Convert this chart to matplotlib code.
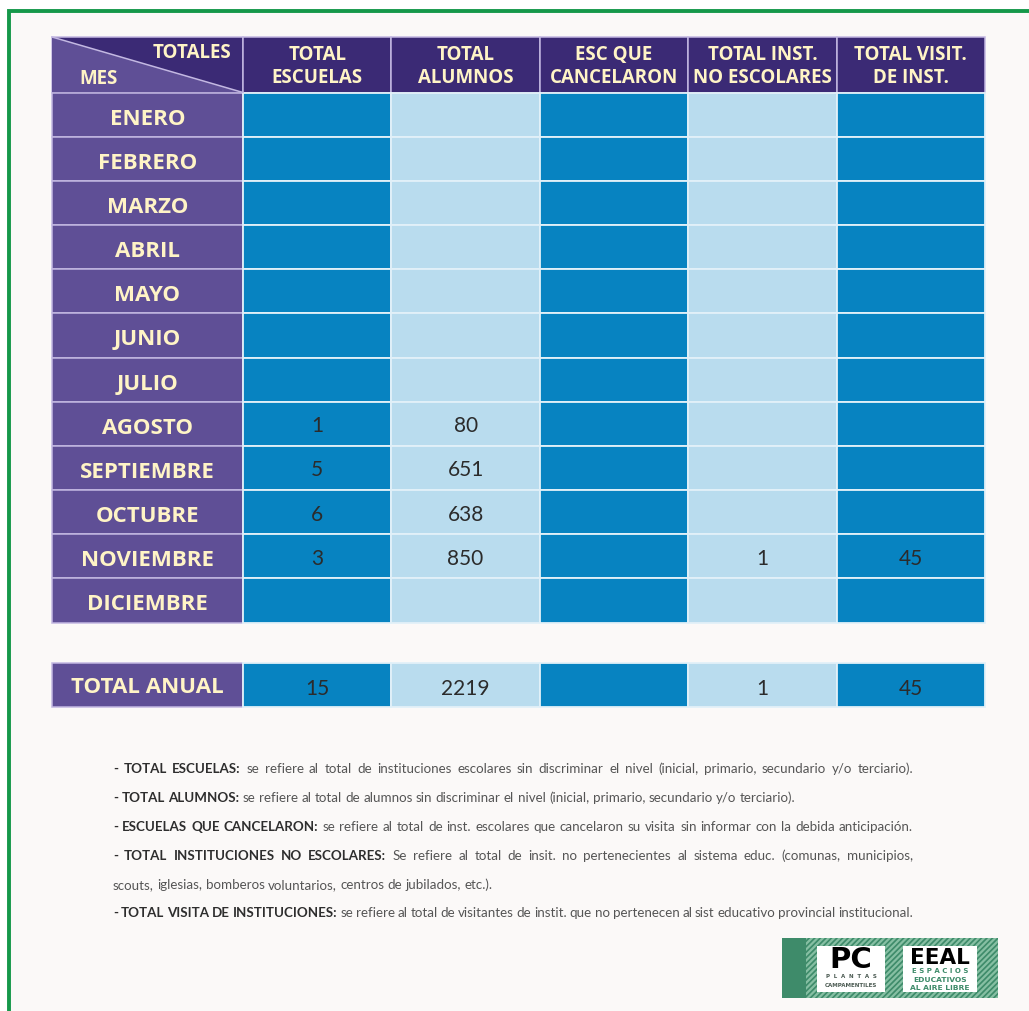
import matplotlib
matplotlib.use("Agg")
import matplotlib.pyplot as plt
from matplotlib.patches import Rectangle, Polygon

# ---------------- data ----------------
months = ["ENERO", "FEBRERO", "MARZO", "ABRIL", "MAYO", "JUNIO", "JULIO",
          "AGOSTO", "SEPTIEMBRE", "OCTUBRE", "NOVIEMBRE", "DICIEMBRE"]
col_headers = ["TOTAL\nESCUELAS", "TOTAL\nALUMNOS", "ESC QUE\nCANCELARON",
               "TOTAL INST.\nNO ESCOLARES", "TOTAL VISIT.\nDE INST."]
total_escuelas = [None, None, None, None, None, None, None, 1, 5, 6, 3, None]
total_alumnos = [None, None, None, None, None, None, None, 80, 651, 638, 850, None]
esc_cancelaron = [None] * 12
inst_no_escolares = [None, None, None, None, None, None, None, None, None, None, 1, None]
visit_inst = [None, None, None, None, None, None, None, None, None, None, 45, None]
total_anual = [15, 2219, None, 1, 45]
corner_top = "TOTALES"
corner_bottom = "MES"
total_label = "TOTAL ANUAL"

notes = [
    ("- TOTAL ESCUELAS:", "se refiere al total de instituciones escolares sin discriminar el nivel (inicial, primario, secundario y/o terciario).", True),
    ("- TOTAL ALUMNOS:", "se refiere al total de alumnos sin discriminar el nivel (inicial, primario, secundario y/o terciario).", False),
    ("- ESCUELAS QUE CANCELARON:", "se refiere al total de inst. escolares que cancelaron su visita sin informar con la debida anticipación.", True),
    ("- TOTAL INSTITUCIONES NO ESCOLARES:", "Se refiere al total de insit. no pertenecientes al sistema educ. (comunas, municipios,", True),
    ("", "scouts, iglesias, bomberos voluntarios, centros de jubilados, etc.).", False),
    ("- TOTAL VISITA DE INSTITUCIONES:", "se refiere al total de visitantes de instit. que no pertenecen al sist educativo provincial institucional.", True),
]

columns = [total_escuelas, total_alumnos, esc_cancelaron, inst_no_escolares, visit_inst]

# ---------------- style ----------------
W, H = 1029, 1012
HDR = "#3b2a75"
MON = "#5f4f96"
DARK = "#0783c1"
LIGHT = "#b9dcee"
CREAM = "#fff4c6"
LINE_P = "#c3b8e2"
LINE_B = "#e2f1f9"
NUM_C = "#2b2b2b"
GREEN = "#15984a"
BG = "#fbf9f8"
col_colors = [DARK, LIGHT, DARK, LIGHT, DARK]

X0, MW, CW = 52, 191, 148.4
Y0, HH, RH = 38, 55.5, 44.17
TY, TH = 664, 43.5

PX = 100 / 72.0

fig = plt.figure(figsize=(W / 100, H / 100), dpi=100)
fig.patch.set_facecolor("white")
ax = fig.add_axes([0, 0, 1, 1])
ax.set_xlim(0, W)
ax.set_ylim(H, 0)
ax.axis("off")

# page background + green frame
ax.add_patch(Rectangle((8.5, 11.5), 1200, 1200, facecolor=BG, edgecolor=GREEN, lw=2.8))


def ctext(x, yc, s, size, family, weight, color, ha="center", cap=0.72):
    ax.text(x, yc + cap * size * PX / 2, s, fontsize=size, family=family,
            fontweight=weight, color=color, ha=ha, va="baseline")


HF = ["Open Sans", "DejaVu Sans"]
NF = ["Lato", "DejaVu Sans"]

# header corner
ax.add_patch(Rectangle((X0, Y0), MW, HH, facecolor=HDR, edgecolor=LINE_P, lw=1.1))
ax.add_patch(Polygon([(X0, Y0), (X0 + MW, Y0 + HH), (X0, Y0 + HH)], closed=True,
                     facecolor=MON, edgecolor="none"))
ax.plot([X0, X0 + MW], [Y0, Y0 + HH], color=LINE_P, lw=1.1)
ctext(X0 + MW - 12, 51.5, corner_top, 13.5, HF, "bold", CREAM, ha="right")
ctext(X0 + 27, 77, corner_bottom, 13.5, HF, "bold", CREAM, ha="left")

# column headers
for j, h in enumerate(col_headers):
    x = X0 + MW + j * CW
    ax.add_patch(Rectangle((x, Y0), CW, HH, facecolor=HDR, edgecolor=LINE_P, lw=1.1))
    l1, l2 = h.split("\n")
    ctext(x + CW / 2, 53.5, l1, 13.5, HF, "bold", CREAM)
    ctext(x + CW / 2, 76.5, l2, 13.5, HF, "bold", CREAM)

# body rows
for i, m in enumerate(months):
    y = Y0 + HH + i * RH
    ax.add_patch(Rectangle((X0, y), MW, RH, facecolor=MON, edgecolor=LINE_P, lw=1.1))
    ctext(X0 + MW / 2, y + RH / 2 + 1, m, 16, HF, "bold", CREAM)
    for j, col in enumerate(columns):
        x = X0 + MW + j * CW
        ax.add_patch(Rectangle((x, y), CW, RH, facecolor=col_colors[j], edgecolor=LINE_B, lw=1.3))
        v = col[i]
        if v is not None:
            ctext(x + CW / 2, y + RH / 2, str(v), 15, NF, "normal", NUM_C)

# total row
ax.add_patch(Rectangle((X0, TY), MW, TH, facecolor=MON, edgecolor=LINE_P, lw=1.1))
ctext(X0 + MW / 2, TY + TH / 2 - 1, total_label, 16, HF, "bold", CREAM)
for j, v in enumerate(total_anual):
    x = X0 + MW + j * CW
    ax.add_patch(Rectangle((x, TY), CW, TH, facecolor=col_colors[j], edgecolor=LINE_B, lw=1.3))
    if v is not None:
        ctext(x + CW / 2, TY + TH / 2 + 2, str(v), 15, NF, "normal", NUM_C)

# ---------------- footnotes (justified) ----------------
fig.canvas.draw()
renderer = fig.canvas.get_renderer()
FN_SIZE = 9.6
FN_X0, FN_X1 = 113, 913
FN_Y = [773, 802, 831, 860, 889, 917]
BODY_C = "#555555"
LAB_C = "#2e2e2e"


def width_of(s, weight):
    t = ax.text(0, 0, s, fontsize=FN_SIZE, family=NF, fontweight=weight)
    w = t.get_window_extent(renderer).width
    t.remove()
    return w


space_w = width_of("x x", "normal") - width_of("xx", "normal")
for (lab, body, just), yb in zip(notes, FN_Y):
    words = [(w, "bold", LAB_C) for w in lab.split()] + [(w, "normal", BODY_C) for w in body.split()]
    widths = [width_of(w, wt) for w, wt, c in words]
    if just and len(words) > 1:
        gap = (FN_X1 - FN_X0 - sum(widths)) / (len(words) - 1)
    else:
        gap = space_w
    x = FN_X0
    for (w, wt, c), ww in zip(words, widths):
        ax.text(x, yb, w, fontsize=FN_SIZE, family=NF, fontweight=wt, color=c,
                ha="left", va="baseline")
        x += ww + gap

# ---------------- logo ----------------
LG = "#3e8b6a"
ax.add_patch(Rectangle((782, 939), 216, 60, facecolor=LG, edgecolor="none"))
plt.rcParams["hatch.linewidth"] = 1.6
ax.add_patch(Rectangle((806, 939), 192, 60, facecolor="none", edgecolor="#86bfa3",
                       hatch="//////", lw=0))
ax.add_patch(Rectangle((817, 946.5), 68, 46.5, facecolor="white", edgecolor="none"))
ax.add_patch(Rectangle((903, 946.5), 74, 46.5, facecolor="white", edgecolor="none"))
LF = ["DejaVu Sans"]
ax.text(851, 968, "PC", fontsize=21, family=LF, fontweight="heavy", color="black",
        ha="center", va="baseline")
ax.text(851, 978.5, "P  L  A  N  T  A  S", fontsize=4.0, family=LF, fontweight="bold",
        color="#4b5a52", ha="center", va="baseline")
ax.text(851, 987, "CAMPAMENTILES", fontsize=4.0, family=LF, fontweight="bold",
        color="#4b5a52", ha="center", va="baseline")
ax.text(940, 964, "EEAL", fontsize=15.5, family=LF, fontweight="heavy", color="black",
        ha="center", va="baseline")
ax.text(940, 973.5, "E S P A C I O S", fontsize=5.0, family=LF, fontweight="bold",
        color=LG, ha="center", va="baseline")
ax.text(940, 982, "EDUCATIVOS", fontsize=5.4, family=LF, fontweight="bold",
        color=LG, ha="center", va="baseline")
ax.text(940, 990.5, "AL AIRE LIBRE", fontsize=5.4, family=LF, fontweight="bold",
        color=LG, ha="center", va="baseline")

fig.savefig("out.png", dpi=100, facecolor="white")
